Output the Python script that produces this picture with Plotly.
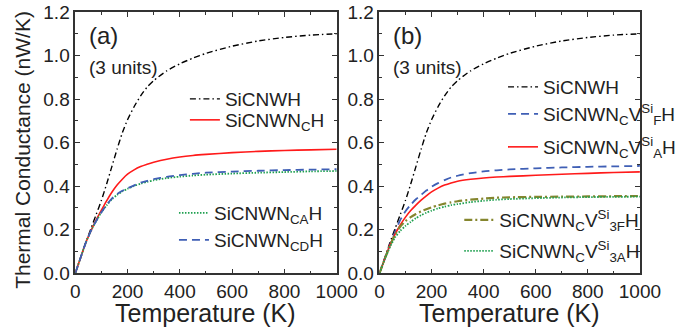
import plotly.graph_objects as go

W, H = 681, 329

# ---------------- data ----------------
T = [0, 20, 40, 60, 80, 100, 120, 140, 160, 180, 200, 225, 250, 275, 300,
     350, 400, 450, 500, 600, 700, 800, 900, 1000]

sicnwh = [0, 0.07, 0.14, 0.205, 0.27, 0.335, 0.41, 0.49, 0.57, 0.645, 0.705, 0.765, 0.815, 0.855, 0.885,
          0.93, 0.962, 0.988, 1.01, 1.043, 1.067, 1.083, 1.094, 1.10]

# panel (a)
a_nc = [0, 0.07, 0.14, 0.195, 0.245, 0.29, 0.333, 0.372, 0.405, 0.432, 0.455, 0.475, 0.49, 0.501, 0.51,
        0.524, 0.534, 0.541, 0.546, 0.554, 0.56, 0.564, 0.567, 0.57]
a_nca = [0, 0.07, 0.14, 0.195, 0.24, 0.28, 0.312, 0.34, 0.36, 0.376, 0.388, 0.401, 0.412, 0.42, 0.427,
         0.437, 0.444, 0.449, 0.453, 0.458, 0.462, 0.465, 0.468, 0.470]
a_ncd = [0, 0.07, 0.14, 0.195, 0.24, 0.28, 0.315, 0.343, 0.364, 0.379, 0.39, 0.404, 0.416, 0.425, 0.432,
         0.443, 0.451, 0.457, 0.462, 0.467, 0.471, 0.474, 0.476, 0.478]

# panel (b)
b_vf = [0, 0.065, 0.13, 0.19, 0.245, 0.285, 0.315, 0.34, 0.36, 0.38, 0.397, 0.414, 0.428, 0.44, 0.448,
        0.46, 0.468, 0.473, 0.477, 0.482, 0.486, 0.489, 0.491, 0.493]
b_va = [0, 0.065, 0.128, 0.18, 0.222, 0.258, 0.288, 0.313, 0.336, 0.356, 0.374, 0.391, 0.405, 0.415, 0.423,
        0.432, 0.438, 0.442, 0.445, 0.45, 0.455, 0.459, 0.463, 0.466]
b_v3f = [0, 0.065, 0.125, 0.178, 0.215, 0.24, 0.258, 0.272, 0.284, 0.294, 0.303, 0.312, 0.32, 0.326, 0.331,
         0.338, 0.343, 0.347, 0.349, 0.351, 0.352, 0.353, 0.354, 0.355]
b_v3a = [0, 0.063, 0.12, 0.165, 0.195, 0.218, 0.236, 0.253, 0.267, 0.278, 0.288, 0.298, 0.306, 0.313, 0.318,
         0.327, 0.333, 0.338, 0.341, 0.345, 0.348, 0.35, 0.351, 0.352]

xticks = [0, 200, 400, 600, 800, 1000]
yticks = [0.0, 0.2, 0.4, 0.6, 0.8, 1.0, 1.2]

# ---------------- styles ----------------
BLACK = "#000000"
RED = "#ff1a1a"
BLUE = "#3f5fb5"
GREEN = "#1fa050"
OLIVE = "#85862e"
FONT = "Liberation Sans, Arial, sans-serif"
TXT = "#222222"

def px(x):
    return x / W

def py(y):
    return 1 - y / H

fig = go.Figure()

DASHDOT = "6px,3px,1.5px,3px"
DASH = "8px,5px"
DOT = "1.5px,1.5px"
OLIVEDD = "8px,3px,2px,3px"

series = [
    # (x axis, y axis, values, name, color, dash, width, legend id, legend left px, legend centre y px)
    ("x", "y", sicnwh, "SiCNWH", BLACK, DASHDOT, 1.4, "legend", 186, 99),
    ("x", "y", a_nc, "SiCNWN<sub>C</sub>H", RED, "solid", 1.6, "legend2", 186, 120),
    ("x", "y", a_nca, "SiCNWN<sub>CA</sub>H", GREEN, DOT, 1.8, "legend3", 175, 213),
    ("x", "y", a_ncd, "SiCNWN<sub>CD</sub>H", BLUE, DASH, 1.8, "legend4", 175, 240),
    ("x2", "y2", sicnwh, "SiCNWH", BLACK, DASHDOT, 1.4, "legend5", 506, 87),
    ("x2", "y2", b_vf, "SiCNWN<sub>C</sub>V<sup>Si</sup><sub>F</sub>H", BLUE, DASH, 1.8, "legend6", 506, 114),
    ("x2", "y2", b_va, "SiCNWN<sub>C</sub>V<sup>Si</sup><sub>A</sub>H", RED, "solid", 1.6, "legend7", 506, 147),
    ("x2", "y2", b_v3f, "SiCNWN<sub>C</sub>V<sup>Si</sup><sub>3F</sub>H", OLIVE, OLIVEDD, 2.2, "legend8", 462, 220),
    ("x2", "y2", b_v3a, "SiCNWN<sub>C</sub>V<sup>Si</sup><sub>3A</sub>H", GREEN, DOT, 1.8, "legend9", 462, 251),
]

legends = {}
for xa, ya, vals, name, col, dash, wd, lg, lx, ly in series:
    fig.add_trace(go.Scatter(
        x=T, y=vals, xaxis=xa, yaxis=ya, mode="lines", name=name,
        line=dict(color=col, dash=dash, width=wd, shape="spline", smoothing=0.6),
        legend=lg, showlegend=True, hoverinfo="skip",
    ))
    legends[lg] = dict(
        x=px(lx), y=py(ly), xanchor="left", yanchor="middle",
        bgcolor="rgba(0,0,0,0)", borderwidth=0,
        font=dict(family=FONT, size=19, color=TXT),
        itemwidth=30, tracegroupgap=0,
    )

axis_common = dict(
    showline=True, linecolor="#333", linewidth=1.5, mirror="allticks",
    ticks="inside", ticklen=5, tickwidth=1.2, tickcolor="#333",
    showgrid=False, zeroline=False, automargin=False,
    tickfont=dict(family=FONT, size=19, color=TXT),
)

xa = dict(axis_common, range=[0, 1000], tickvals=xticks,
          minor=dict(ticks="inside", ticklen=3, tickwidth=1.2, tickcolor="#333", dtick=100, showgrid=False))
ya = dict(axis_common, range=[0, 1.2], tickvals=yticks, tickformat=".1f",
          minor=dict(ticks="inside", ticklen=3, tickwidth=1.2, tickcolor="#333", dtick=0.1, showgrid=False))

fig.update_layout(
    template="none",
    width=W, height=H,
    margin=dict(l=0, r=0, t=0, b=0, pad=0),
    paper_bgcolor="white", plot_bgcolor="white",
    font=dict(family=FONT, color=TXT),
    xaxis=dict(xa, domain=[px(75.7), px(338.7)], anchor="y"),
    yaxis=dict(ya, domain=[py(273.3), py(12)], anchor="x"),
    xaxis2=dict(xa, domain=[px(381.7), px(643.7)], anchor="y2"),
    yaxis2=dict(ya, domain=[py(273.3), py(12)], anchor="x2"),
    **legends,
)

annots = [
    dict(text="(a)", x=88, y=35, size=24, xa="left", ang=0),
    dict(text="(3 units)", x=88, y=67, size=19, xa="left", ang=0),
    dict(text="(b)", x=393, y=35, size=24, xa="left", ang=0),
    dict(text="(3 units)", x=393, y=67, size=19, xa="left", ang=0),
    dict(text="Temperature (K)", x=207.2, y=313, size=25, xa="center", ang=0),
    dict(text="Temperature (K)", x=512.7, y=313, size=25, xa="center", ang=0),
    dict(text="Thermal Conductance (nW/K)", x=22, y=150, size=21, xa="center", ang=-90),
]
for a in annots:
    fig.add_annotation(text=a["text"], x=px(a["x"]), y=py(a["y"]), xref="paper", yref="paper",
                       xanchor=a["xa"], yanchor="middle", showarrow=False, textangle=a["ang"],
                       font=dict(family=FONT, size=a["size"], color=TXT))

fig.write_html("out.html")
